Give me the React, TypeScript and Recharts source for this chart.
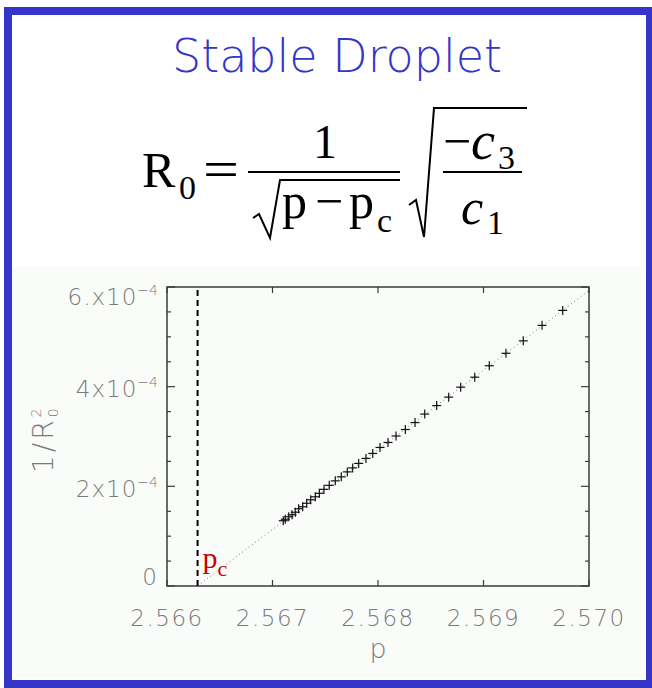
import React from 'react';
import { ScatterChart, Scatter, XAxis, YAxis, ReferenceLine, ReferenceArea } from 'recharts';

// ---------- data ----------
const pValues = [
  2.567102, 2.567121, 2.567154, 2.567185, 2.567216, 2.567248, 2.567286, 2.567324,
  2.567362, 2.567406, 2.567444, 2.567488, 2.567538, 2.567595, 2.567652, 2.567709,
  2.56776, 2.567817, 2.567886, 2.56795, 2.568019, 2.568095, 2.568171, 2.568259,
  2.568351, 2.568443, 2.568556, 2.56867, 2.568784, 2.568917, 2.569055, 2.569213,
  2.569377, 2.569555, 2.569751,
];
const invR2Values = [
  1.31e-4, 1.34e-4, 1.39e-4, 1.43e-4, 1.48e-4, 1.55e-4, 1.59e-4, 1.66e-4,
  1.73e-4, 1.79e-4, 1.86e-4, 1.94e-4, 2.02e-4, 2.11e-4, 2.19e-4, 2.29e-4,
  2.37e-4, 2.46e-4, 2.56e-4, 2.66e-4, 2.78e-4, 2.88e-4, 3.01e-4, 3.14e-4,
  3.28e-4, 3.45e-4, 3.62e-4, 3.79e-4, 3.99e-4, 4.19e-4, 4.42e-4, 4.67e-4,
  4.92e-4, 5.23e-4, 5.53e-4,
];
const fitP = [2.56629, 2.57];
const fitInv = [0, 5.93e-4];
const pCritical = 2.56629;

const xDomain = [2.566, 2.57];
const yDomain = [0, 6e-4];
const xTicks = [2.566, 2.567, 2.568, 2.569, 2.57];
const xTickLabels = ['2.566', '2.567', '2.568', '2.569', '2.570'];
const yMajorTicks = [0, 2e-4, 4e-4, 6e-4];
const yTickMantissas = ['0', '2x10', '4x10', '6.x10'];
const yTickExponents = ['', '\u22124', '\u22124', '\u22124'];
const yMinorTicks = [0.5e-4, 1e-4, 1.5e-4, 2.5e-4, 3e-4, 3.5e-4, 4.5e-4, 5e-4, 5.5e-4];
const yAllTicks = [...yMajorTicks, ...yMinorTicks].sort((a, b) => a - b);

const titleText = 'Stable Droplet';

const points = pValues.map((p, i) => ({ p, v: invR2Values[i] }));
const fitData = fitP.map((p, i) => ({ p, v: fitInv[i] }));

// ---------- layout / styling ----------
const CHART_W = 652;
const CHART_H = 688;
const MARGIN = { top: 287, right: 63, bottom: 42, left: 87 };
const Y_AXIS_W = 80;
const X_AXIS_H = 60;
const PLOT_W = CHART_W - MARGIN.left - MARGIN.right - Y_AXIS_W;
const PLOT_H = CHART_H - MARGIN.top - MARGIN.bottom - X_AXIS_H;

const BLUE = '#3535c9';
const AXIS = '#3a3a3a';
const TICKTXT = '#7a7a7a';
const SANS = "'DejaVu Sans', Verdana, sans-serif";
const SERIF = "'Liberation Serif', 'Times New Roman', serif";

const findIdx = (arr: number[], v: number) => arr.findIndex((t) => Math.abs(t - v) < 1e-9);

const XTick = (props: any) => {
  const { x, y, payload } = props;
  const i = findIdx(xTicks, payload.value);
  const top = y - PLOT_H;
  return (
    <g>
      <line x1={x} y1={y} x2={x} y2={y - 6} stroke={AXIS} strokeWidth={1.2} />
      <line x1={x} y1={top} x2={x} y2={top + 6} stroke={AXIS} strokeWidth={1.2} />
      <text
        x={x}
        y={y + 40}
        textAnchor="middle"
        fill={TICKTXT}
        fontSize={23}
        fontFamily={SANS}
        fontWeight={300}
        letterSpacing={1.5}
      >
        {xTickLabels[i]}
      </text>
    </g>
  );
};

const yShift = [-1, 11, 10, 18];
const YTick = (props: any) => {
  const { x, y, payload } = props;
  const axisX = x + 9;
  const right = axisX + PLOT_W;
  const i = findIdx(yMajorTicks, payload.value);
  const len = i >= 0 ? 8 : 4;
  return (
    <g>
      <line x1={axisX} y1={y} x2={axisX + len} y2={y} stroke={AXIS} strokeWidth={1.2} />
      <line x1={right} y1={y} x2={right - len} y2={y} stroke={AXIS} strokeWidth={1.2} />
      {i >= 0 ? (
        <text
          x={x}
          y={y + yShift[i]}
          textAnchor="end"
          fill={TICKTXT}
          fontSize={23}
          fontFamily={SANS}
          fontWeight={300}
          letterSpacing={1}
        >
          {yTickMantissas[i]}
          {yTickExponents[i] ? (
            <tspan dy={-10} fontSize={14} letterSpacing={0}>
              {yTickExponents[i]}
            </tspan>
          ) : null}
        </text>
      ) : null}
    </g>
  );
};

const CrossMark = (props: any) => {
  const { cx, cy } = props;
  if (cx == null || cy == null) return <g />;
  return (
    <g stroke="#111" strokeWidth={1.2}>
      <line x1={cx - 4.5} y1={cy} x2={cx + 4.5} y2={cy} />
      <line x1={cx} y1={cy - 4.5} x2={cx} y2={cy + 4.5} />
    </g>
  );
};

const NoMark = () => <g />;

const YTitle = (props: any) => {
  const { viewBox } = props;
  const bx = viewBox.x - 34;
  const by = viewBox.y + 186;
  return (
    <text
      x={bx}
      y={by}
      transform={`rotate(-90, ${bx}, ${by})`}
      fill={TICKTXT}
      fontSize={28}
      fontFamily={SANS}
      fontWeight={300}
      letterSpacing={3}
    >
      1/R
      <tspan dy={5} fontSize={14} letterSpacing={0}>0</tspan>
      <tspan dx={-9} dy={-17} fontSize={14} letterSpacing={0}>2</tspan>
    </text>
  );
};

const XTitle = (props: any) => {
  const { viewBox } = props;
  return (
    <text
      x={viewBox.x + viewBox.width / 2}
      y={viewBox.y + 72}
      textAnchor="middle"
      fill={TICKTXT}
      fontSize={27}
      fontFamily={SANS}
      fontWeight={300}
    >
      p
    </text>
  );
};

const PcLabel = (props: any) => {
  const { viewBox } = props;
  const x = viewBox.x + 5;
  const y = viewBox.y + viewBox.height - 18;
  return (
    <text x={x} y={y} fill="#cc0000" fontSize={30} fontFamily={SERIF}>
      p
      <tspan dy={8} fontSize={22}>c</tspan>
    </text>
  );
};

const Formula = () => (
  <g fill="#000" fontFamily={SERIF}>
    <text x={142} y={187} fontSize={50}>R</text>
    <text x={179} y={199} fontSize={34}>0</text>
    <text x={203} y={187} fontSize={52} textLength={36} lengthAdjust="spacingAndGlyphs">=</text>
    <text x={325} y={158} fontSize={48} textAnchor="middle">1</text>
    <line x1={248} y1={172} x2={400} y2={172} stroke="#000" strokeWidth={2} />
    <path d="M253,218 L259,214 L270,238 L280,180 L400,180" fill="none" stroke="#000" strokeWidth={2} />
    <text x={282} y={218} fontSize={50}>p</text>
    <text x={315} y={218} fontSize={50}>{'\u2212'}</text>
    <text x={349} y={218} fontSize={50}>p</text>
    <text x={377} y={232} fontSize={34}>c</text>
    <path d="M409,205 L416,200 L424,237 L434,108 L527,108" fill="none" stroke="#000" strokeWidth={2} />
    <text x={443} y={158} fontSize={50}>{'\u2212'}</text>
    <text x={471} y={159} fontSize={54} fontStyle="italic">c</text>
    <text x={498} y={169} fontSize={34}>3</text>
    <line x1={443} y1={172} x2={522} y2={172} stroke="#000" strokeWidth={2} />
    <text x={461} y={224} fontSize={50} fontStyle="italic">c</text>
    <text x={487} y={234} fontSize={34}>1</text>
  </g>
);

export default function App() {
  return (
    <div style={{ position: 'absolute', left: 0, top: 0, width: 652, height: 688, background: '#fff', overflow: 'hidden' }}>
      <div style={{ position: 'absolute', left: 12, top: 266, width: 629, height: 413, background: '#fafcfa' }} />
      <div
        style={{
          position: 'absolute',
          left: 4,
          top: 7,
          width: 650,
          height: 681,
          border: `8px solid ${BLUE}`,
          boxSizing: 'border-box',
        }}
      />
      <svg width={652} height={688} style={{ position: 'absolute', left: 0, top: 0 }}>
        <text x={337} y={72} textAnchor="middle" fill={BLUE} fontSize={46} fontFamily={SANS} fontWeight={300}>
          {titleText}
        </text>
        <Formula />
      </svg>
      <div style={{ position: 'absolute', left: 0, top: 0 }}>
        <ScatterChart width={CHART_W} height={CHART_H} margin={MARGIN}>
          <XAxis
            type="number"
            allowDataOverflow
            dataKey="p"
            domain={xDomain}
            ticks={xTicks}
            height={X_AXIS_H}
            tickLine={false}
            axisLine={false}
            tickSize={0}
            tickMargin={0}
            tick={<XTick />}
            interval={0}
            label={<XTitle />}
          />
          <YAxis
            type="number"
            allowDataOverflow
            dataKey="v"
            domain={yDomain}
            ticks={yAllTicks}
            width={Y_AXIS_W}
            tickLine={false}
            axisLine={false}
            tickSize={0}
            tickMargin={9}
            tick={<YTick />}
            interval={0}
            label={<YTitle />}
          />
          <ReferenceArea
            x1={xDomain[0]}
            x2={xDomain[1]}
            y1={yDomain[0]}
            y2={yDomain[1]}
            fill="none"
            fillOpacity={0}
            stroke={AXIS}
            strokeWidth={1.5}
            ifOverflow="visible"
          />
          <ReferenceLine
            x={pCritical}
            stroke="#000"
            strokeWidth={2}
            strokeDasharray="6 4"
            label={<PcLabel />}
          />
          <Scatter
            data={fitData}
            fill="#888"
            line={{ stroke: '#777', strokeWidth: 1, strokeDasharray: '1 3' }}
            shape={<NoMark />}
            isAnimationActive={false}
          />
          <Scatter data={points} fill="#111" shape={<CrossMark />} isAnimationActive={false} />
        </ScatterChart>
      </div>
    </div>
  );
}
